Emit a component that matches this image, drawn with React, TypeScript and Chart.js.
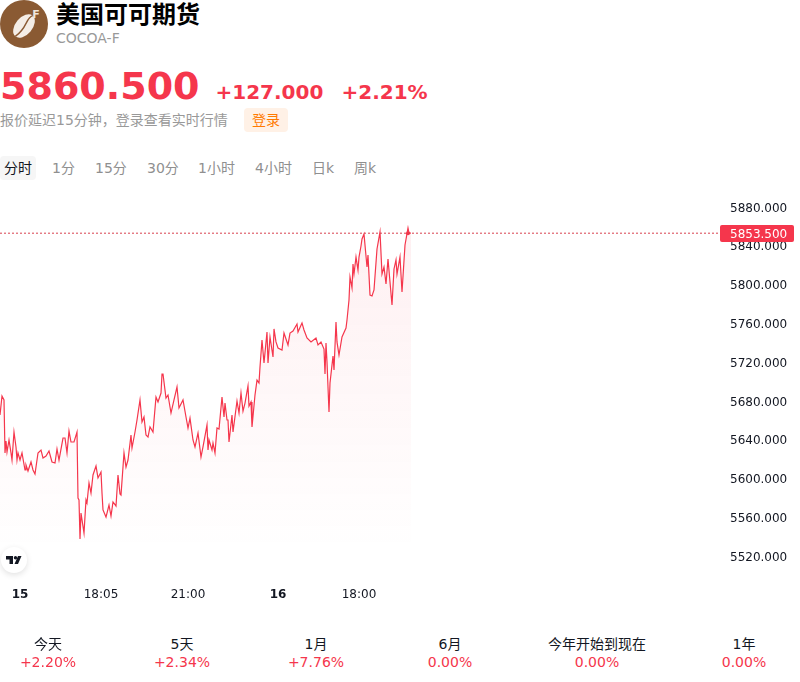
import React, { useEffect, useRef } from "react";
import { Chart, registerables } from "chart.js";

Chart.register(...registerables);

const barIndex = [0,2,4,5,6,7,9,11,12,14,16,17,18,20,22,25,26,28,31,33,35,38,41,43,46,49,52,55,57,59,63,65,67,69,71,74,77,78,79,80,81,84,86,87,89,91,93,96,98,101,102,103,106,109,111,113,116,118,120,121,124,126,128,131,132,135,137,140,142,144,146,148,150,153,156,158,161,162,163,166,168,171,174,177,179,183,186,188,190,193,195,198,201,203,207,208,209,212,213,215,217,219,222,224,225,227,228,229,232,233,237,239,241,243,245,248,249,251,252,255,257,259,260,262,264,267,268,270,273,274,276,278,282,284,288,290,293,297,298,302,304,307,311,316,318,321,324,325,326,327,329,330,333,334,336,337,339,342,346,347,349,350,352,353,354,356,358,359,361,362,364,367,368,370,372,374,377,380,382,384,386,388,392,394,396,397,400,402,405,408,409,411];
const prices = [5666,5685.5,5681.5,5626.8,5639.1,5627.8,5640.2,5626.8,5619.5,5648.4,5633,5619.5,5626.8,5619.5,5626.8,5609.2,5614.4,5608.2,5617.5,5609.2,5605.1,5626.8,5629.8,5621.6,5623.6,5628.8,5617.5,5616.4,5630.9,5619.5,5642.2,5642.2,5626.8,5649.4,5638.1,5638.1,5648.4,5580.3,5578.3,5538,5564.8,5544.2,5578.3,5575.2,5595.8,5585.5,5604.1,5613.3,5601,5607.1,5585.5,5568,5560.7,5573.1,5561.7,5576.2,5572.1,5604.1,5584.5,5583.4,5626.8,5612.3,5619.5,5645.3,5631.9,5648.4,5660.8,5681.5,5658.7,5663.9,5645.3,5643.2,5653.6,5648.4,5684.5,5679.4,5688.6,5708.2,5708.2,5683.5,5686.6,5668,5681.5,5694.8,5673.2,5681.5,5663.9,5652.5,5662.8,5640.2,5633,5647.4,5622.6,5633,5655.6,5629.8,5640.2,5629.8,5637,5626.8,5652.5,5651.5,5684.5,5663.9,5678.3,5660.8,5660.8,5638.1,5666,5648.4,5680.4,5668,5688.6,5670,5678.3,5695.9,5675.2,5679.4,5653.6,5686.6,5702,5699,5715.5,5743.3,5719.6,5751.6,5719.6,5746.4,5725.8,5754.7,5741.3,5735.1,5733,5750.5,5738.2,5750.5,5752.6,5759.8,5751.6,5760.9,5753.6,5745.4,5741.3,5745.4,5738.2,5741.3,5734,5708.2,5740.2,5720.6,5669,5699,5726.8,5712.4,5761.9,5741.3,5727.8,5746.4,5755.7,5764,5784.6,5808.3,5797,5821.7,5811.4,5828.9,5815.5,5828.9,5840.3,5847.5,5852.7,5818.6,5831,5789.7,5788.7,5794.9,5837.2,5854.8,5811.4,5818.6,5801.1,5826.9,5779.4,5816.6,5825.9,5811.4,5828.9,5792.8,5841.3,5858.9,5853.7,5853.5];
const lastPrice = 5853.5;
const lastBar = 408;
const yTicks = [5520,5560,5600,5640,5680,5720,5760,5800,5840,5880];
const xTickBars = [20,101,188,278,359];
const xTickLabels = ["15","18:05","21:00","16","18:00"];
const boldXTicks = ["15","16"];
const intervals = ["分时","1分","15分","30分","1小时","4小时","日k","周k"];
const intervalLefts = [4,52,95,147,198,255,312,354];
const periods = ["今天","5天","1月","6月","今年开始到现在","1年"];
const periodChanges = ["+2.20%","+2.34%","+7.76%","0.00%","0.00%","0.00%"];
const periodCenters = [48,182,316,450,597,744];

const RED = "#f5364c";
const INK = "#131722";
const FONT = '"DejaVu Sans","Noto Sans CJK SC",sans-serif';

const priceTagPlugin = {
  id: "priceTag",
  afterDraw(chart: any) {
    const { ctx, scales } = chart;
    const y = scales.y.getPixelForValue(lastPrice);
    ctx.save();
    ctx.fillStyle = RED;
    ctx.beginPath();
    ctx.roundRect(720, Math.round(y) - 8, 74, 17, 2);
    ctx.fill();
    ctx.fillStyle = "#ffffff";
    ctx.font = `12px ${FONT}`;
    ctx.textAlign = "left";
    ctx.textBaseline = "middle";
    ctx.fillText(lastPrice.toFixed(3), 730, y + 1.5);
    ctx.restore();
  },
};

function text(style: React.CSSProperties, content: string, key?: number) {
  return (
    <div key={key} style={{ position: "absolute", whiteSpace: "nowrap", lineHeight: "1", ...style }}>
      {content}
    </div>
  );
}

export default function App() {
  const ref = useRef<HTMLCanvasElement>(null);

  useEffect(() => {
    const chart = new Chart(ref.current!, {
      type: "line",
      plugins: [priceTagPlugin],
      data: {
        datasets: [
          {
            data: [{ x: 0, y: lastPrice }, { x: 720, y: lastPrice }],
            borderColor: "#d8404f",
            borderWidth: 1,
            borderDash: [2, 2],
            pointRadius: 0,
            fill: false,
          },
          {
            data: [{ x: lastBar, y: lastPrice }],
            pointRadius: 2,
            pointBackgroundColor: RED,
            pointBorderWidth: 0,
            showLine: false,
          },
          {
            data: barIndex.map((b, i) => ({ x: b, y: prices[i] })),
            borderColor: RED,
            borderWidth: 1.2,
            pointRadius: 0,
            tension: 0,
            fill: "start",
            backgroundColor: (c: any) => {
              const area = c.chart.chartArea;
              if (!area) return "rgba(245,54,76,0.05)";
              const g = c.chart.ctx.createLinearGradient(0, 40, 0, area.bottom - 25);
              g.addColorStop(0, "rgba(245,54,76,0.075)");
              g.addColorStop(0.7, "rgba(245,54,76,0.025)");
              g.addColorStop(1, "rgba(245,54,76,0)");
              return g;
            },
          },
        ],
      } as any,
      options: {
        animation: false,
        responsive: false,
        layout: { autoPadding: false, padding: 0 },
        plugins: { legend: { display: false }, tooltip: { enabled: false } },
        scales: {
          x: {
            type: "linear",
            min: 0,
            max: 720,
            grid: { display: false, drawTicks: false },
            border: { display: false },
            afterFit: (s: any) => { s.height = 35; s.paddingLeft = 0; s.paddingRight = 0; },
            afterBuildTicks: (s: any) => { s.ticks = xTickBars.map((v) => ({ value: v })); },
            ticks: {
              autoSkip: false,
              maxRotation: 0,
              padding: 13,
              color: INK,
              font: (c: any) => ({
                family: FONT,
                size: 12,
                weight: boldXTicks.includes(xTickLabels[c.index]) ? "bold" : "normal",
              }),
              callback: (_v: any, i: number) => xTickLabels[i],
            },
          },
          y: {
            type: "linear",
            position: "right",
            min: 5500.9,
            max: 5898.05,
            grid: { display: false, drawTicks: false },
            border: { display: false },
            afterFit: (s: any) => {
              s.width = 80;
              s.paddingTop = 0;
              s.paddingBottom = 0;
              if (!s.__nudged) {
                s.__nudged = true;
                const orig = s._computeLabelItems.bind(s);
                s._computeLabelItems = (area: any) =>
                  orig(area).map((item: any) => ({
                    ...item,
                    options: {
                      ...item.options,
                      translation: [item.options.translation[0], item.options.translation[1] + 1],
                    },
                  }));
              }
            },
            afterBuildTicks: (s: any) => { s.ticks = yTicks.map((v) => ({ value: v })); },
            ticks: {
              padding: 10,
              color: INK,
              font: { family: FONT, size: 12 },
              callback: (v: any) => Number(v).toFixed(3),
            },
          },
        },
      } as any,
    });
    return () => chart.destroy();
  }, []);

  return (
    <div style={{ position: "absolute", left: 0, top: 0, width: 800, height: 682, overflow: "hidden", background: "#fff", fontFamily: FONT }}>
      <svg width="48" height="48" viewBox="0 0 48 48" style={{ position: "absolute", left: 0, top: 0 }}>
        <circle cx="24" cy="24" r="24" fill="#8a5a33" />
        <g transform="rotate(40 24 26)">
          <ellipse cx="24" cy="26" rx="8.5" ry="13.5" fill="#f4ede6" />
          <path d="M24 12.5 C20 19 28 25 24 39.5" fill="none" stroke="#8a5a33" strokeWidth="1.4" />
        </g>
        <text x="36" y="18" fontSize="11" fontWeight="bold" fill="#efe6dd" fontFamily={FONT} textAnchor="middle">F</text>
      </svg>
      {text({ left: 56, top: 3, fontSize: 24, fontWeight: 700, color: "#000" }, "美国可可期货")}
      {text({ left: 56, top: 31, fontSize: 14, color: "#999" }, "COCOA-F")}
      {text({ left: 0, top: 67, fontSize: 38, fontWeight: 700, color: RED }, "5860.500")}
      {text({ left: 215.5, top: 82, fontSize: 20, fontWeight: 700, color: RED }, "+127.000")}
      {text({ left: 341.5, top: 82, fontSize: 20, fontWeight: 700, color: RED }, "+2.21%")}
      {text({ left: 0, top: 113, fontSize: 14, color: "#999" }, "报价延迟15分钟，登录查看实时行情")}
      <div style={{ position: "absolute", left: 244, top: 108, width: 44, height: 24, borderRadius: 4, background: "#fff1e6" }} />
      {text({ left: 252, top: 113, fontSize: 14, color: "#ff7a00" }, "登录")}
      <div style={{ position: "absolute", left: 0, top: 156, width: 36, height: 24, borderRadius: 4, background: "#f6f6f6" }} />
      {intervals.map((s, i) =>
        text({ left: intervalLefts[i], top: 161, fontSize: 14, color: i === 0 ? INK : "#8f8f8f" }, s, i)
      )}
      <canvas ref={ref} width={800} height={420} style={{ position: "absolute", left: 0, top: 190, width: 800, height: 420 }} />
      <div style={{ position: "absolute", left: 1, top: 547, width: 26, height: 26, borderRadius: 13, background: "#fff", boxShadow: "0 2px 6px rgba(0,0,0,0.12)" }} />
      <svg width="16" height="8" viewBox="0 0 16 8" style={{ position: "absolute", left: 6, top: 556 }}>
        <path d="M0 0H7V8H3.5V3.5H0Z M15.5 0L12 8H8.5L12 0Z" fill={INK} />
        <circle cx="9.5" cy="1.7" r="1.7" fill={INK} />
      </svg>
      {periods.map((p, i) => (
        <React.Fragment key={i}>
          {text({ left: periodCenters[i], top: 637, fontSize: 14, color: INK, transform: "translateX(-50%)" }, p)}
          {text({ left: periodCenters[i], top: 655, fontSize: 14, color: RED, transform: "translateX(-50%)" }, periodChanges[i])}
        </React.Fragment>
      ))}
    </div>
  );
}
